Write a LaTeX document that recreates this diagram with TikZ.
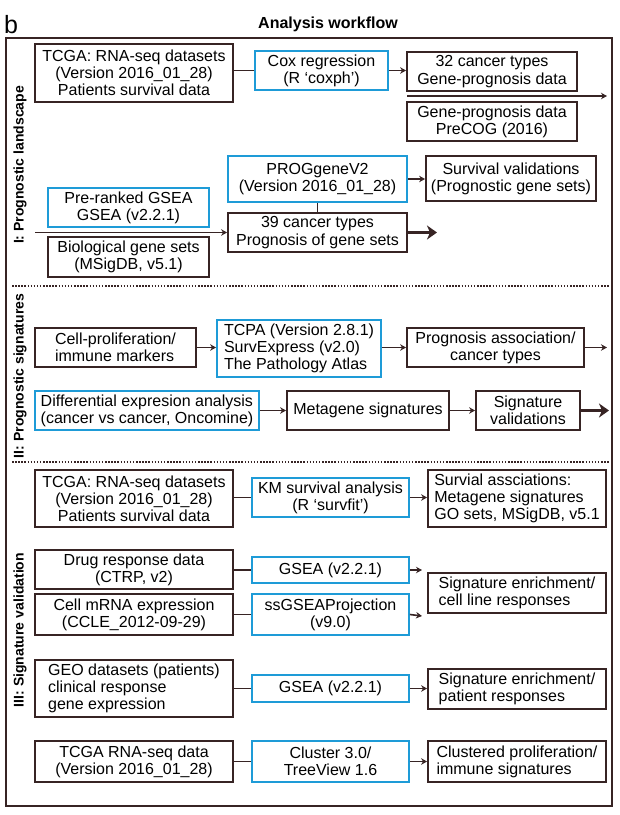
\documentclass[tikz,border=0pt]{standalone}
\usepackage{fontspec}
\setmainfont{Liberation Sans}
\usetikzlibrary{arrows.meta}
\definecolor{dk}{RGB}{55,36,36}
\definecolor{bl}{RGB}{30,155,215}
\begin{document}
\begin{tikzpicture}[x=1pt,y=-1pt,
 txt/.style={font=\fontsize{16}{17.2}\selectfont, text=black},
 box/.style={draw=dk, line width=1.8pt, txt, align=center, inner sep=0pt},
 bbox/.style={box, draw=bl},
 wh/.style n args={2}{minimum width=#1pt, minimum height=#2pt},
 con/.style={draw=dk, line width=1.6pt},
 arr/.style={con, -{Stealth[length=6pt,width=6.5pt]}},
 tarr/.style={draw=dk, line width=3.5pt, -{Stealth[length=10pt,width=14pt,inset=3pt]}},
 sect/.style={font=\bfseries\fontsize{14}{16}\selectfont, rotate=90},
 sep/.style={draw=dk, line width=1.5pt, dash pattern=on 1.5pt off 1.6pt}
]
\useasboundingbox (0,0) rectangle (620,815);
% header
\node[font=\fontsize{25}{25}\selectfont, anchor=base west, inner sep=0pt] (blabel) at (4,33) {b};
\node[font=\bfseries\fontsize{16}{18}\selectfont] (title) at (328,24) {Analysis workflow};
\draw[dk, line width=1.8pt] (6,38) rectangle (612,806);
\draw[sep] (12,286) -- (609,286);
\draw[sep] (12,462) -- (609,462);
% section labels
\node[sect] (s1) at (20,165) {I: Prognostic landscape};
\node[sect] (s2) at (20,376) {II: Prognostic signatures};
\node[sect] (s3) at (20,630) {III: Signature validation};

% ---------- Section I ----------
\node[box, wh={198}{58}] (tcga1) at (134,73) {TCGA: RNA-seq datasets\\(Version 2016\_01\_28)\\Patients survival data};
\node[bbox, wh={133}{39}] (cox) at (321.5,70.5) {Cox regression\\(R ‘coxph’)};
\node[box, wh={170}{39}] (c32) at (492,71.5) {32 cancer types\\Gene-prognosis data};
\node[box, wh={170}{39}] (precog) at (492,121.5) {Gene-prognosis data\\PreCOG (2016)};
\coordinate (la1) at (407,96);
\coordinate (la2) at (607,96);
\draw[con] (cox.west) -- (cox.west -| tcga1.east);
\draw[arr] (cox.east) -- (c32.west |- cox.east);
\draw[arr, line width=2pt] (la1) -- (la2);

\node[bbox, wh={179}{46}] (prog) at (317.5,179) {PROGgeneV2\\(Version 2016\_01\_28)};
\node[box, wh={170}{45}] (surv) at (511,178.5) {Survival validations\\(Prognostic gene sets)};
\node[bbox, wh={161}{39}] (gseapr) at (128.5,207.5) {Pre-ranked GSEA\\GSEA (v2.2.1)};
\node[box, wh={161}{40}] (bio) at (128.5,257) {Biological gene sets\\(MSigDB, v5.1)};
\node[box, wh={179}{39}] (c39) at (317.5,232.5) {39 cancer types\\Prognosis of gene sets};
\coordinate (ga) at (35,232.5);
\coordinate (te1) at (437,232.5);
\draw[arr] (prog.east) -- (surv.west |- prog.east);
\draw[con] (prog.south) -- (c39.north);
\draw[arr] (ga) -- (c39.west);
\draw[tarr] (c39.east) -- (te1);

% ---------- Section II ----------
\node[box, wh={161}{39}, align=left] (cell) at (115.5,347.5) {Cell-proliferation/\\immune markers};
\node[bbox, wh={164}{57}, align=left] (tcpa) at (299,348.5) {TCPA (Version 2.8.1)\\SurvExpress (v2.0)\\The Pathology Atlas};
\node[box, wh={177}{39}] (passoc) at (495.5,347.5) {Prognosis association/\\cancer types};
\coordinate (pe) at (607,347.5);
\draw[arr] (cell.east) -- (tcpa.west |- cell.east);
\draw[arr] (tcpa.east |- passoc.west) -- (passoc.west);
\draw[arr] (passoc.east) -- (pe);

\node[bbox, wh={224}{39}, align=left] (diff) at (147,410.5) {Differential expresion analysis\\(cancer vs cancer, Oncomine)};
\node[box, wh={162}{39}] (meta) at (368,410.5) {Metagene signatures};
\node[box, wh={104}{39}] (sigval) at (528,410.5) {Signature\\validations};
\coordinate (se) at (609,410.5);
\draw[arr] (diff.east) -- (meta.west);
\draw[arr] (meta.east) -- (sigval.west);
\draw[tarr] (sigval.east) -- (se);

% ---------- Section III ----------
\node[box, wh={198}{57}] (tcga3) at (134,498.5) {TCGA: RNA-seq datasets\\(Version 2016\_01\_28)\\Patients survival data};
\node[bbox, wh={157}{39}] (km) at (330.5,497.5) {KM survival analysis\\(R ‘survfit’)};
\node[box, wh={178}{57}, align=left] (survas) at (517,498.5) {Survial assciations:\\Metagene signatures\\GO sets, MSigDB, v5.1};
\draw[con] (km.west) -- (km.west -| tcga3.east);
\draw[arr] (km.east) -- (survas.west |- km.east);

\node[box, wh={198}{39}] (drug) at (134,569.5) {Drug response data\\(CTRP, v2)};
\node[bbox, wh={157}{26}] (gsea1) at (330.5,570) {GSEA (v2.2.1)};
\node[box, wh={178}{40}, align=left] (sigcell) at (517,593) {Signature enrichment/\\cell line responses};
\node[box, wh={198}{41}] (ccle) at (134,614.5) {Cell mRNA expression\\(CCLE\_2012-09-29)};
\node[bbox, wh={157}{41}] (ssg) at (330.5,614.5) {ssGSEAProjection\\(v9.0)};
\coordinate (g1e) at (422,570);
\coordinate (g2e) at (422,616);
\draw[con] (gsea1.west) -- (gsea1.west -| drug.east);
\draw[arr] (gsea1.east) -- (g1e);
\draw[con] (ssg.west) -- (ssg.west -| ccle.east);
\draw[arr] (ssg.east) -- (g2e);

\node[box, wh={198}{57}, align=left] (geo) at (134,688.5) {GEO datasets (patients)\\clinical response\\gene expression};
\node[bbox, wh={157}{27}] (gsea2) at (330.5,688.5) {GSEA (v2.2.1)};
\node[box, wh={178}{40}, align=left] (sigpat) at (517,689) {Signature enrichment/\\patient responses};
\draw[con] (gsea2.west) -- (gsea2.west -| geo.east);
\draw[arr] (gsea2.east) -- (sigpat.west |- gsea2.east);

\node[box, wh={198}{41}] (tcga4) at (134,761.5) {TCGA RNA-seq data\\(Version 2016\_01\_28)};
\node[bbox, wh={157}{41}] (clus) at (330.5,761.5) {Cluster 3.0/\\TreeView 1.6};
\node[box, wh={178}{41}, align=left] (clustered) at (517,761.5) {Clustered proliferation/\\immune signatures};
\draw[con] (tcga4.east) -- (clus.west);
\draw[arr] (clus.east) -- (clustered.west);
\end{tikzpicture}
\end{document}
